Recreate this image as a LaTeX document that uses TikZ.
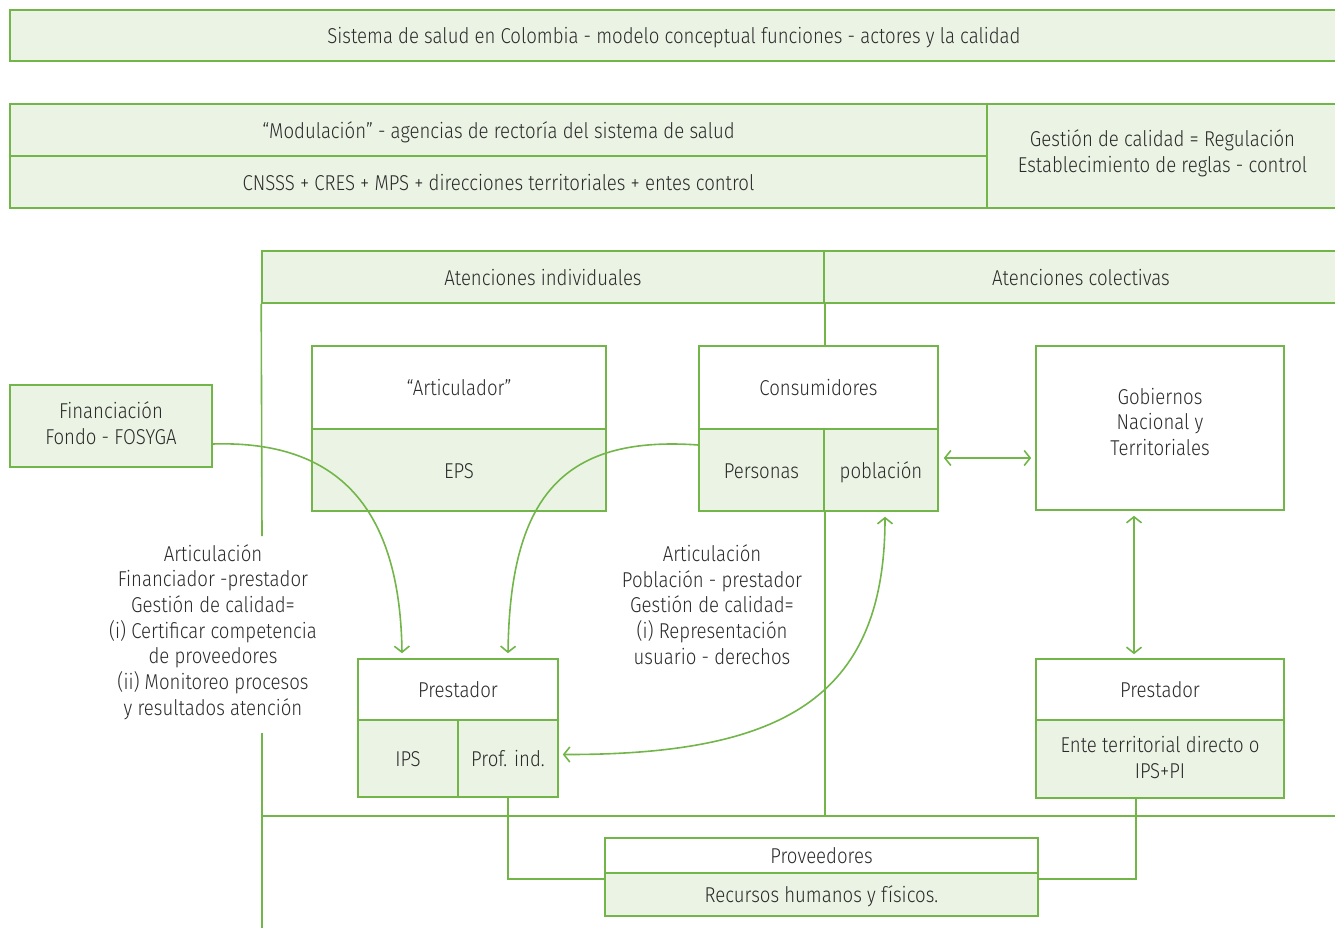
\documentclass[tikz,border=0pt]{standalone}
\usepackage{fontspec}
\setmainfont{Fira Sans Light}[FakeStretch=0.865]
\usetikzlibrary{arrows.meta}
\definecolor{gline}{HTML}{72B649}
\definecolor{gfill}{HTML}{EBF3E4}
\definecolor{ink}{HTML}{2A2A2A}

\begin{document}
\begin{tikzpicture}[x=1pt,y=-1pt,
  every node/.append style={font=\fontsize{21.5}{25.7}\selectfont, text=ink},
  cell/.style 2 args={draw=gline, line width=1.6pt, inner sep=0pt, align=center,
                      minimum width=#1, minimum height=#2},
  wcell/.style 2 args={cell={#1}{#2}, fill=white},
  gcell/.style 2 args={cell={#1}{#2}, fill=gfill},
  one/.style={text height=16.5pt, text depth=0pt},
  link/.style={draw=gline, line width=1.6pt},
  tip/.style={-{Straight Barb[length=6pt,width=15pt]}},
  tips/.style={{Straight Barb[length=6pt,width=15pt]}-{Straight Barb[length=6pt,width=15pt]}},
  note/.style={align=center, inner sep=0pt}
]
\useasboundingbox (0,0) rectangle (1335,928);

% title band and steering row
\node[gcell={1328}{51}, one] (title) at (674,35.5)
  {Sistema de salud en Colombia - modelo conceptual funciones - actores y la calidad};
\node[gcell={977}{52}, one] (modul) at (498.5,130)
  {“Modulación” - agencias de rectoría del sistema de salud};
\node[gcell={977}{52}, one] (agencias) at (498.5,182)
  {CNSSS + CRES + MPS + direcciones territoriales + entes control};
\node[gcell={351}{104},
  label={[note, yshift=3pt]center:{Gestión de calidad = Regulación\\Establecimiento de reglas - control}}]
  (regul) at (1162.5,156) {};

% column headers
\node[gcell={562}{52}, one] (hInd) at (543,277) {Atenciones individuales};
\node[gcell={514}{52}, one] (hCol) at (1081,277) {Atenciones colectivas};

% frame lines
\coordinate (fL1) at (262,536);
\coordinate (fL2) at (262,733);
\coordinate (fL3) at (262,930);
\coordinate (fB) at (1340,816);

% actors
\node[gcell={202}{82},
  label={[note, yshift=2.5pt]center:{Financiación\\Fondo - FOSYGA}}] (fin) at (111,426) {};
\node[wcell={294}{83}, one] (artT) at (459,387.5) {“Articulador”};
\node[gcell={294}{82}, one] (eps) at (459,470) {EPS};
\node[wcell={239}{83}, one] (consT) at (818.5,387.5) {Consumidores};
\node[gcell={125}{82}, one] (pers) at (761.5,470) {Personas};
\node[gcell={114}{82}, one] (pob) at (881,470) {población};
\node[wcell={248}{164},
  label={[note, yshift=6pt]center:{Gobiernos\\Nacional y\\Territoriales}}] (gob) at (1160,428) {};

\draw[link] (hInd.south west) -- (fL1);
\draw[link] (fL2) -- (fL3);
\draw[link] (fL2 |- fB) -- (fB);
\draw[link] (hInd.south east) -- (hInd.south east |- consT.north);
\draw[link] (pers.south east) -- (pers.south east |- fB);

\node[wcell={200}{61}, one] (prestL) at (458,689.5) {Prestador};
\node[gcell={100}{77}, one] (ips) at (408,758.5) {IPS};
\node[gcell={100}{77}, one] (prof) at (508,758.5) {Prof. ind.};
\node[wcell={248}{61}, one] (prestR) at (1160,689.5) {Prestador};
\node[gcell={248}{78},
  label={[note, yshift=1.5pt]center:{Ente territorial directo o\\IPS+PI}}] (ente) at (1160,759) {};
\node[wcell={433}{35}, one] (prov) at (821.5,855.5) {Proveedores};
\node[gcell={433}{43}, one] (recur) at (821.5,894.5) {Recursos humanos y físicos.};

% supply links
\draw[link] (prof.south) |- ([shift={(0,5)}]prov.south west);
\draw[link] ([shift={(-24,0)}]ente.south) |- ([shift={(0,5)}]prov.south east);

% articulation arrows
\draw[link, tip] ([shift={(0,18)}]fin.east)
  .. controls (340,440) and (400,510) .. ([shift={(-56,-5)}]prestL.north);
\draw[link, tip] ([shift={(0,-25)}]pers.west)
  .. controls (560,435) and (510,500) .. ([shift={(50,-5)}]prestL.north);
\draw[link, tips] ([shift={(4,5)}]pob.south)
  .. controls (885,700) and (780,755) .. ([shift={(4,-4)}]prof.east);
\draw[link, tips] ([shift={(5,-12)}]pob.east) -- ([shift={(-4,30)}]gob.west);
\draw[link, tips] ([shift={(-26,5)}]gob.south) -- ([shift={(-26,-4)}]prestR.north);

% explanatory notes
\node[note] (noteFin) at (213,632)
  {Articulación\\Financiador -prestador\\Gestión de calidad=\\(i) Certificar competencia\\de proveedores\\(ii) Monitoreo procesos\\y resultados atención};
\node[note] (notePob) at (712,604.5)
  {Articulación\\Población - prestador\\Gestión de calidad=\\(i) Representación\\usuario - derechos};
\end{tikzpicture}
\end{document}
